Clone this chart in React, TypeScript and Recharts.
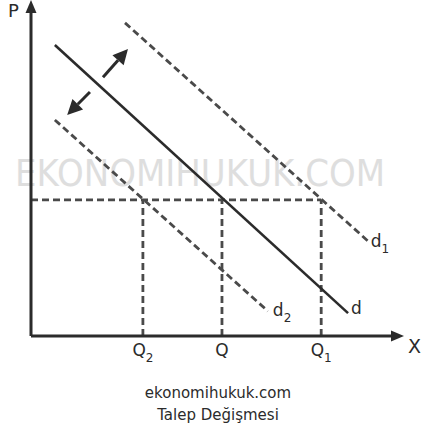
import React from "react";
import { LineChart, Line, XAxis, YAxis, ReferenceLine, ReferenceDot } from "recharts";

// demand curves (x = quantity, y = price)
const curveD = [{ x: 0.64, y: 8.66 }, { x: 8.5, y: 0.68 }];
const curveD1 = [{ x: 2.52, y: 9.32 }, { x: 9.03, y: 2.83 }];
const curveD2 = [{ x: 0.64, y: 6.43 }, { x: 6.35, y: 0.74 }];

const price = 4.05;
const quantities = [3.0, 5.12, 7.78];
const quantityNames = ["Q", "Q", "Q"];
const quantitySubs = ["2", "", "1"];

// shift arrows
const shiftUp = [{ x: 1.93, y: 7.7 }, { x: 2.6, y: 8.54 }];
const shiftDown = [{ x: 1.58, y: 7.26 }, { x: 0.97, y: 6.58 }];

const FONT = "'DejaVu Sans', Verdana, sans-serif";
const INK = "#2b2b2b";
const DASH = "#4a4a4a";

const arrowShape = (head: number, width: number, sw: number) => (props: any) => {
  const { x1, y1, x2, y2 } = props;
  const a = Math.atan2(y2 - y1, x2 - x1);
  const bx = x2 - head * Math.cos(a);
  const by = y2 - head * Math.sin(a);
  const px = (-Math.sin(a) * width) / 2;
  const py = (Math.cos(a) * width) / 2;
  return (
    <g>
      <line x1={x1} y1={y1} x2={bx} y2={by} stroke={INK} strokeWidth={sw} />
      <polygon points={`${x2},${y2} ${bx + px},${by + py} ${bx - px},${by - py}`} fill={INK} />
    </g>
  );
};

const QTick = (props: any) => {
  const { x, y, index } = props;
  return (
    <text x={x} y={y} dy={12} textAnchor="middle" fontFamily={FONT} fontSize={17} fill={INK}>
      {quantityNames[index]}
      {quantitySubs[index] ? (
        <tspan dy={6} fontSize={12}>
          {quantitySubs[index]}
        </tspan>
      ) : null}
    </text>
  );
};

const textAt = (main: string, sub: string, dx: number, dy: number, size = 17) => (props: any) => (
  <text x={props.cx + dx} y={props.cy + dy} fontFamily={FONT} fontSize={size} fill={INK}>
    {main}
    {sub ? (
      <tspan dy={6} fontSize={12}>
        {sub}
      </tspan>
    ) : null}
  </text>
);

export default function App() {
  const dashed = "7 4";
  return (
    <div style={{ position: "absolute", left: 0, top: 0, width: 422, height: 432 }}>
      <div style={{ position: "absolute", left: 0, top: 0 }}>
        <svg width={422} height={432}>
          <text
            x={15}
            y={186}
            fontFamily={FONT}
            fontSize={38}
            fill="#dedede"
            textLength={370}
            lengthAdjust="spacingAndGlyphs"
          >
            EKONOMIHUKUK.COM
          </text>
        </svg>
      </div>
      <div style={{ position: "absolute", left: 0, top: 0 }}>
        <LineChart width={422} height={432} margin={{ top: 0, right: 18, bottom: 56, left: 31 }}>
          <XAxis
            type="number"
            dataKey="x"
            domain={[0, 10]}
            ticks={quantities}
            tick={QTick}
            interval={0}
            axisLine={false}
            tickLine={false}
            height={40}
            allowDataOverflow
          />
          <YAxis type="number" domain={[0, 10]} hide allowDataOverflow />

          <ReferenceLine segment={[{ x: 0, y: price }, { x: quantities[2], y: price }]} stroke={DASH} strokeWidth={2.8} strokeDasharray={dashed} />
          {quantities.map((q, i) => (
            <ReferenceLine key={i} segment={[{ x: q, y: 0 }, { x: q, y: price }]} stroke={DASH} strokeWidth={2.8} strokeDasharray={dashed} />
          ))}

          <Line data={curveD1} dataKey="y" stroke={DASH} strokeWidth={2.8} strokeDasharray={dashed} dot={false} isAnimationActive={false} />
          <Line data={curveD2} dataKey="y" stroke={DASH} strokeWidth={2.8} strokeDasharray={dashed} dot={false} isAnimationActive={false} />
          <Line data={curveD} dataKey="y" stroke={INK} strokeWidth={2.6} dot={false} isAnimationActive={false} />

          <ReferenceLine segment={[shiftUp[0], shiftUp[1]]} ifOverflow="visible" shape={arrowShape(15, 15, 3)} />
          <ReferenceLine segment={[shiftDown[0], shiftDown[1]]} ifOverflow="visible" shape={arrowShape(15, 15, 3)} />

          <ReferenceLine segment={[{ x: 0, y: 0 }, { x: 10, y: 0 }]} ifOverflow="visible" shape={arrowShape(13, 11, 3)} />
          <ReferenceLine segment={[{ x: 0, y: 0 }, { x: 0, y: 10 }]} ifOverflow="visible" shape={arrowShape(13, 11, 3)} />

          <ReferenceDot x={curveD[1].x} y={curveD[1].y} r={0} ifOverflow="visible" shape={textAt("d", "", 3, 1)} />
          <ReferenceDot x={curveD1[1].x} y={curveD1[1].y} r={0} ifOverflow="visible" shape={textAt("d", "1", 3, 6)} />
          <ReferenceDot x={curveD2[1].x} y={curveD2[1].y} r={0} ifOverflow="visible" shape={textAt("d", "2", 5, 5)} />
          <ReferenceDot x={0} y={10} r={0} ifOverflow="visible" shape={textAt("P", "", -23, 17, 18)} />
          <ReferenceDot x={10} y={0} r={0} ifOverflow="visible" shape={textAt("X", "", 4, 17, 19)} />
        </LineChart>
      </div>
      <div
        style={{
          position: "absolute",
          top: 382,
          left: 218,
          transform: "translateX(-50%)",
          fontFamily: FONT,
          fontSize: 15,
          lineHeight: "22px",
          color: INK,
          textAlign: "center",
          whiteSpace: "nowrap",
        }}
      >
        ekonomihukuk.com
        <br />
        Talep Değişmesi
      </div>
    </div>
  );
}
